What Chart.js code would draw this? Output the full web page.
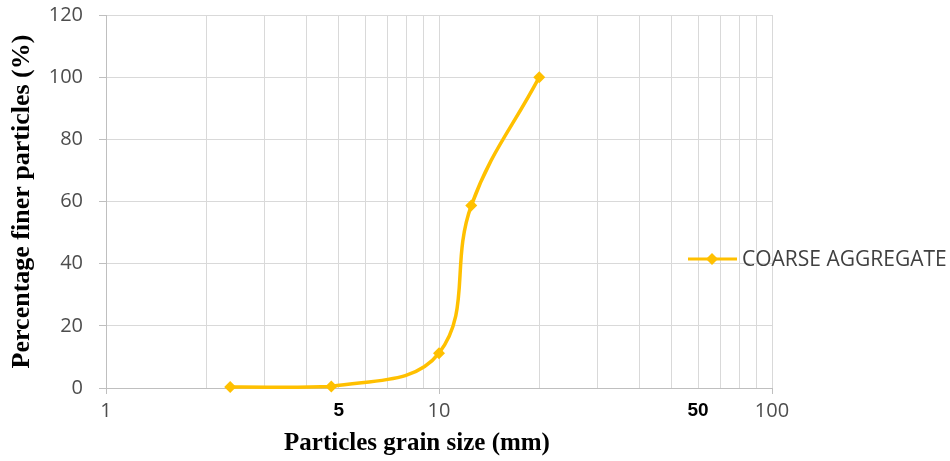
<!DOCTYPE html>
<html>
<head>
<meta charset="utf-8">
<script src="https://cdn.jsdelivr.net/npm/chart.js@4.4.1/dist/chart.umd.min.js"></script>
<style>
    html, body { margin: 0; padding: 0; background: #ffffff; }
    #wrap { width: 950px; height: 461px; position: relative; }
</style>
</head>
<body>
<div id="wrap"><canvas id="gradingChart"></canvas></div>
<script>
// Sieve sizes (mm) and percentage passing
const grainSize = [2.36, 4.75, 10, 12.5, 20];
const percentFiner = [0.3, 0.5, 11.2, 58.7, 100];
const seriesName = 'COARSE AGGREGATE';

// Gridline positions on the log axis and the labels shown under them
const xGridValues = [1, 2, 3, 4, 5, 6, 7, 8, 9, 10, 20, 30, 40, 50, 60, 70, 80, 90, 100];
const xTickLabels = { 1: '1', 5: '5', 10: '10', 60: '50', 100: '100' };
const xBoldLabels = [5, 60];
const xMajorTicks = [1, 10, 100];

const lineColor = '#FFC000';
const gridColor = '#d9d9d9';
const tickGrey = '#4d4d4d';

// Legend drawn over the right side, like the original
const sideLegend = {
    id: 'sideLegend',
    afterDraw(chart) {
        const c = chart.ctx;
        const y = 259;
        c.save();
        c.strokeStyle = lineColor;
        c.lineWidth = 3;
        c.beginPath();
        c.moveTo(688, y);
        c.lineTo(737, y);
        c.stroke();
        c.fillStyle = lineColor;
        c.beginPath();
        c.moveTo(712, y - 6);
        c.lineTo(718, y);
        c.lineTo(712, y + 6);
        c.lineTo(706, y);
        c.closePath();
        c.fill();
        c.fillStyle = '#404040';
        c.font = '21px "Open Sans"';
        c.textAlign = 'left';
        c.textBaseline = 'middle';
        c.fillText(seriesName, 742, y + 1);

        // x axis title (sits left of centre in the original)
        c.fillStyle = '#000000';
        c.font = 'bold 25px "Liberation Serif"';
        c.textAlign = 'center';
        c.fillText('Particles grain size (mm)', 417, 444);
        c.restore();
    }
};

const points = grainSize.map((x, i) => ({ x: x, y: percentFiner[i] }));

new Chart(document.getElementById('gradingChart').getContext('2d'), {
    type: 'line',
    data: {
        datasets: [{
            label: seriesName,
            data: points,
            borderColor: lineColor,
            backgroundColor: lineColor,
            borderWidth: 3.5,
            pointStyle: 'rectRot',
            pointRadius: 6,
            pointHoverRadius: 6,
            pointBorderWidth: 0,
            tension: 0.4,
            fill: false,
            clip: false
        }]
    },
    options: {
        responsive: true,
        maintainAspectRatio: false,
        animation: false,
        layout: { padding: { left: 0, right: 178, top: 15, bottom: 0 } },
        plugins: {
            legend: { display: false },
            tooltip: { enabled: false }
        },
        scales: {
            x: {
                type: 'logarithmic',
                min: 1,
                max: 100,
                afterBuildTicks: (scale) => {
                    scale.ticks = xGridValues.map(v => ({ value: v }));
                },
                afterFit: (scale) => { scale.height = 73; },
                grid: {
                    color: gridColor,
                    lineWidth: 1,
                    tickLength: 6,
                    tickColor: (ctx) => xMajorTicks.includes(ctx.tick && ctx.tick.value) ? '#bfbfbf' : 'rgba(0,0,0,0)'
                },
                border: { color: '#bfbfbf', width: 1 },
                ticks: {
                    autoSkip: false,
                    maxRotation: 0,
                    padding: 5,
                    callback: (value) => xTickLabels[value] || '',
                    color: (ctx) => xBoldLabels.includes(ctx.tick && ctx.tick.value) ? '#000000' : tickGrey,
                    font: (ctx) => xBoldLabels.includes(ctx.tick && ctx.tick.value)
                        ? { family: '"Liberation Sans"', size: 19, weight: 'bold' }
                        : { family: '"Open Sans"', size: 20 }
                },
                title: { display: false }
            },
            y: {
                min: 0,
                max: 120,
                afterFit: (scale) => {
                    scale.width = 106;
                    scale.paddingTop = 0;
                },
                grid: { color: gridColor, lineWidth: 1, tickLength: 7, tickColor: '#bfbfbf' },
                border: { color: '#bfbfbf', width: 1 },
                ticks: {
                    stepSize: 20,
                    padding: 16,
                    color: tickGrey,
                    font: { family: '"Open Sans"', size: 20 }
                },
                title: {
                    display: true,
                    text: 'Percentage finer particles (%)',
                    color: '#000000',
                    font: { family: '"Liberation Serif"', size: 26, weight: 'bold' },
                    padding: { top: 7, bottom: 0 }
                }
            }
        }
    },
    plugins: [sideLegend]
});
</script>
</body>
</html>
